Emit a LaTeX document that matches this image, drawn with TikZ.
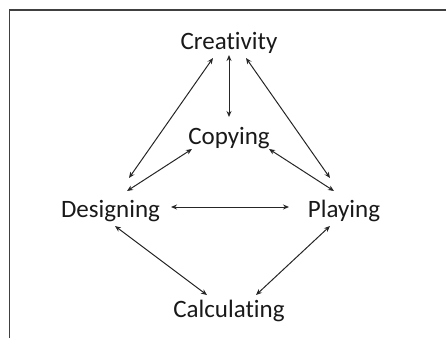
\documentclass[tikz,border=0pt]{standalone}
\usepackage{fontspec}
\setmainfont{Carlito}[Ligatures=NoCommon]
\usetikzlibrary{arrows.meta,calc,positioning}
\tikzset{>=Stealth}
\tikzset{
  word/.style={font=\fontsize{25}{30}\selectfont, text=black!90, inner sep=0pt, anchor=base},
  link/.style={{Stealth[length=6pt,width=5pt]}-{Stealth[length=6pt,width=5pt]}, line width=1pt, black!85},
  frame/.style={line width=1.3pt, black!75},
}

\begin{document}
\begin{tikzpicture}
\useasboundingbox (0,0) rectangle (446pt,-338pt);
\draw[frame] (9.5pt,-338pt) -- (9.5pt,-10pt) -- (446pt,-10pt);

\node[word] (cre) at (229pt,-49pt) {Creativity};
\node[word] (cop) at ([yshift=-95pt]cre.base) {Copying};
\node[word] (des) at (110.5pt,-217pt) {Designing};
\node[word] (pla) at (344pt,-217pt) {Playing};
\node[word] (cal) at ([yshift=-268pt]cre.base) {Calculating};

% links between the five activities
\draw[link] ([yshift=-6pt]cre.base) -- ([yshift=27pt]cop.base);
\draw[link] ([shift={(-16pt,-9pt)}]cre.base) -- ([shift={(18.5pt,39pt)}]des.base);
\draw[link] ([shift={(17pt,-9pt)}]cre.base) -- ([shift={(-14pt,39pt)}]pla.base);
\draw[link] ([shift={(-37pt,-5pt)}]cop.base) -- ([shift={(16.5pt,26pt)}]des.base);
\draw[link] ([shift={(40pt,-5pt)}]cop.base) -- ([shift={(-10pt,26pt)}]pla.base);
\draw[link] ([shift={(60.5pt,10pt)}]des.base) -- ([shift={(-55pt,10pt)}]pla.base);
\draw[link] ([shift={(4.5pt,-9pt)}]des.base) -- ([shift={(-22pt,22pt)}]cal.base);
\draw[link] ([shift={(-14pt,-9pt)}]pla.base) -- ([shift={(27pt,22pt)}]cal.base);
\end{tikzpicture}
\end{document}
